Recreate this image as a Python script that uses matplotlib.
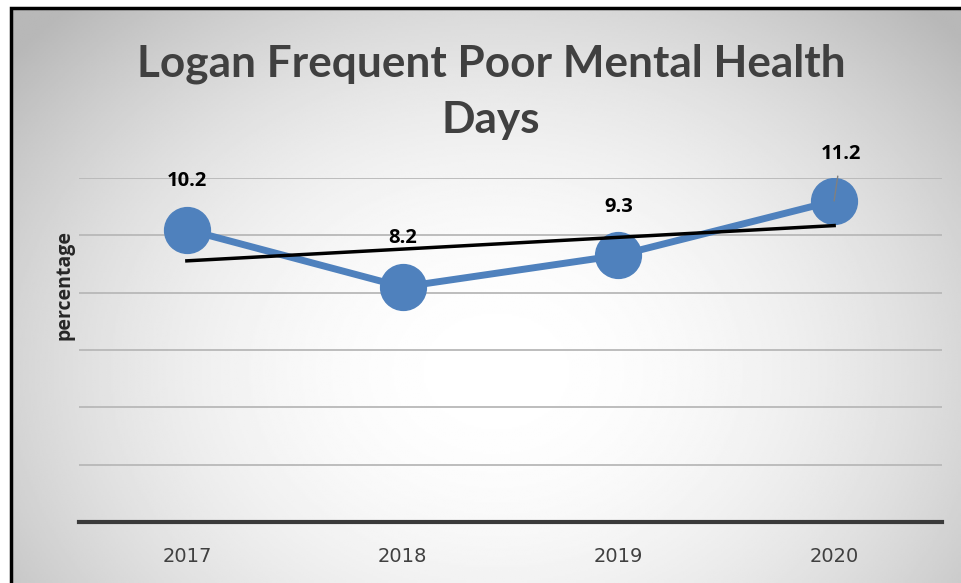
import numpy as np
import matplotlib
matplotlib.use('Agg')
import matplotlib.pyplot as plt
from matplotlib.patches import Rectangle

# chart data
years = ['2017', '2018', '2019', '2020']
values = [10.2, 8.2, 9.3, 11.2]
title_text = 'Logan Frequent Poor Mental Health\nDays'
ylabel_text = 'percentage'

W, H = 961, 583
fig = plt.figure(figsize=(W / 100, H / 100), dpi=100)
fig.patch.set_facecolor('white')

# radial gradient background (white centre, grey edges)
bg = fig.add_axes([11 / W, 0, 1 - 11 / W, 1 - 8 / H], zorder=0)
yy, xx = np.mgrid[0:300, 0:500]
cx, cy = 255, 110
r = np.sqrt(((xx - cx) / 330.0) ** 2 + ((yy - cy) / 260.0) ** 2)
shade = 1 - 0.28 * np.clip(r, 0, 1) ** 2.0
bg.imshow(shade, cmap='gray', vmin=0, vmax=1, aspect='auto', extent=[0, 1, 0, 1],
          origin='lower')
bg.set_axis_off()

# black frame (only left and top visible)
fig.patches.append(Rectangle((11 / W, -0.1), 1.2, 1.1 - 8 / H, transform=fig.transFigure,
                             fill=False, edgecolor='black', linewidth=2.5, zorder=1))

ax = fig.add_axes([79 / W, (H - 522) / H, 863 / W, 344 / H], zorder=2)
ax.patch.set_alpha(0)
x = np.arange(len(years))
ax.set_xlim(-0.5, len(years) - 0.5)
ax.set_ylim(0, 12)
ax.set_yticks(np.arange(2, 13, 2))
ax.yaxis.grid(True, color='#b8b8b8', linewidth=1.3)
ax.set_axisbelow(True)
ax.tick_params(axis='y', left=False, labelleft=False)
ax.tick_params(axis='x', length=0, pad=18, labelsize=14, colors='#404040')
ax.set_xticks(x)
ax.set_xticklabels(years, fontfamily=['Liberation Sans Narrow', 'DejaVu Sans'])
for s in ['left', 'right', 'top']:
    ax.spines[s].set_visible(False)
ax.spines['bottom'].set_color('#3a3a3a')
ax.spines['bottom'].set_linewidth(3)

ax.plot(x, values, color='#4f81bd', linewidth=5, marker='o', markersize=33, zorder=3)

# linear trendline
k, b = np.polyfit(x, values, 1)
ax.plot(x, k * x + b, color='black', linewidth=2.5, zorder=4)

label_font = dict(fontsize=14.5, fontweight='bold', color='black', family=['Open Sans', 'DejaVu Sans'])
for i, v in enumerate(values):
    if i == len(values) - 1:
        ax.annotate(f'{v}', (x[i], v), xytext=(5, 34), textcoords='offset points',
                    ha='center', va='center', zorder=5,
                    arrowprops=dict(arrowstyle='-', color='#808080', lw=1,
                                    shrinkA=7, shrinkB=0), **label_font)
    else:
        ax.annotate(f'{v}', (x[i], v), xytext=(0, 35), textcoords='offset points',
                    ha='center', va='center', zorder=5, **label_font)

fig.text(491 / W, 1 - 92 / H, title_text, ha='center', va='center', fontsize=31.8,
         fontweight='bold', color='#404040', linespacing=1.5, family=['Lato', 'DejaVu Sans'])
fig.text(65 / W, 1 - 285 / H, ylabel_text, ha='center', va='center', rotation=90,
         fontsize=14, fontweight='bold', color='#262626', family=['Open Sans', 'DejaVu Sans'])

fig.savefig('out.png', dpi=100)
